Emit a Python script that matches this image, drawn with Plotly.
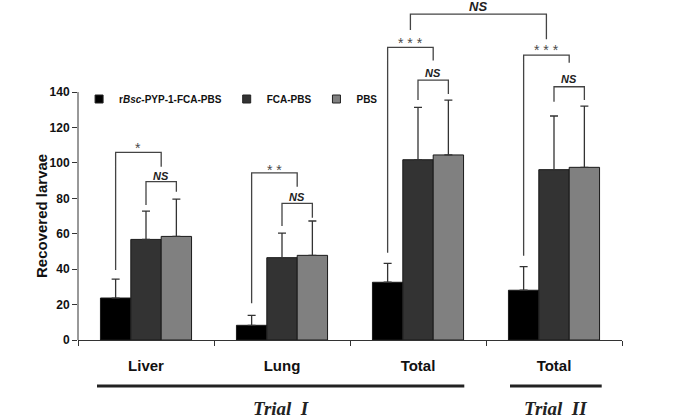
import plotly.graph_objects as go

# ---------------- data ----------------
categories = ["Liver", "Lung", "Total", "Total"]
series_names = ["r<i>Bsc</i>-PYP-1-FCA-PBS", "FCA-PBS", "PBS"]
rbsc_mean = [23.7, 8.3, 32.6, 28.1]
rbsc_err = [10.7, 5.6, 10.7, 13.3]
fca_mean = [56.8, 46.5, 101.8, 96.2]
fca_err = [16.0, 13.9, 29.6, 30.3]
pbs_mean = [58.5, 47.8, 104.5, 97.5]
pbs_err = [21.1, 19.4, 31.0, 34.6]
y_ticks = [0, 20, 40, 60, 80, 100, 120, 140]
trial_labels = ["Trial  I", "Trial  II"]

# significance brackets: (category of left end, kind of left end, category of right end, kind of right end,
#                          top, left-leg bottom, right-leg bottom, label, label centre)
brackets = [
    (0, "black", 0, "ns_mid", 106.0, 39.5, 97.9, "*", 108.4),
    (0, "dark", 0, "grey", 89.4, 76.2, 83.7, "NS", 92.6),
    (1, "black", 1, "ns_mid", 94.4, 20.7, 86.5, "* *", 96.1),
    (1, "dark", 1, "grey", 77.2, 64.4, 69.0, "NS", 80.9),
    (2, "black", 2, "ns_mid", 165.3, 49.3, 157.8, "* * *", 167.7),
    (2, "dark", 2, "grey", 146.8, 135.5, 138.9, "NS", 150.9),
    (3, "black", 3, "ns_mid", 160.9, 47.6, 156.5, "* * *", 163.9),
    (3, "dark", 3, "grey", 143.0, 134.5, 135.5, "NS", 147.3),
    (2, "star_mid", 3, "star_mid", 184.0, 175.0, 169.8, "NS", 188.6),
]

# ---------------- layout constants ----------------
BARGAP = 0.33
YMAX = 192
W = (1 - BARGAP) / 3
colors = ["#000000", "#333333", "#808080"]
xpos = list(range(len(categories)))


def xof(i, kind):
    off = {"black": -W, "dark": 0.0, "grey": W, "ns_mid": W / 2, "star_mid": -W / 4}[kind]
    return i + off


fig = go.Figure()
for name, mean, err, col in zip(series_names, [rbsc_mean, fca_mean, pbs_mean],
                                [rbsc_err, fca_err, pbs_err], colors):
    fig.add_trace(go.Bar(
        x=xpos, y=mean, name=name, marker=dict(color=col, line=dict(color="#1a1a1a", width=1)),
        error_y=dict(type="data", array=err, arrayminus=[0] * len(err), symmetric=False,
                     color="#333333", thickness=1.3, width=4),
        showlegend=False,
    ))
    # legend entry with small square
    fig.add_trace(go.Scatter(
        x=[None], y=[None], mode="markers", name="<b>" + name + "</b>",
        marker=dict(symbol="square", size=8, color=col, line=dict(color="#222222", width=1)),
    ))

# y-axis line from 0 to 140 only
fig.add_shape(type="line", xref="paper", yref="y", x0=0, x1=0, y0=0, y1=y_ticks[-1],
              line=dict(color="#333333", width=1))

line_style = dict(color="#444444", width=1.3)
for (ci, ki, cj, kj, top, lb, rb, lab, ly) in brackets:
    x1 = xof(ci, ki)
    x2 = xof(cj, kj)
    fig.add_shape(type="path", xref="x", yref="y",
                  path=f"M {x1},{lb} L {x1},{top} L {x2},{top} L {x2},{rb}",
                  line=line_style)
    if "NS" in lab:
        fnt = dict(family="Liberation Sans, Arial", size=13 if kj == "star_mid" else 11,
                   color="#222222", weight="bold", style="italic")
    else:
        fnt = dict(family="Liberation Sans, Arial", size=14, color="#4a4a4a")
    fig.add_annotation(x=(x1 + x2) / 2, y=ly, xref="x", yref="y", text=lab, showarrow=False,
                       font=fnt, yanchor="middle", xanchor="center")

# group underlines and trial labels
groups = [(-0.5 + 19 / 136, 2.5 - 21.7 / 136, trial_labels[0]), (2.5 + 24 / 136, 3.5 - 20.3 / 136, trial_labels[1])]
for g0, g1, lab in groups:
    fig.add_shape(type="line", xref="x", yref="paper", x0=g0, x1=g1, y0=-26 / YMAX, y1=-26 / YMAX,
                  line=dict(color="#222222", width=3))
    fig.add_annotation(x=(g0 + g1) / 2, y=-38.6 / YMAX, xref="x", yref="paper", text=lab,
                       showarrow=False, yanchor="middle", xanchor="center",
                       font=dict(family="Liberation Serif, Times New Roman", size=19, color="#222222",
                                 style="italic", weight="bold"))

# y title
fig.add_annotation(text="Recovered larvae", xref="paper", yref="y", x=-37 / 544, y=70,
                   textangle=-90, showarrow=False, xanchor="center", yanchor="middle",
                   font=dict(family="Liberation Sans, Arial", size=15, color="#111111", weight="bold"))

fig.update_layout(
    width=685, height=420,
    margin=dict(l=78, r=63, t=0, b=80),
    paper_bgcolor="white", plot_bgcolor="white",
    barmode="group", bargap=BARGAP, bargroupgap=0,
    showlegend=True,
    legend=dict(orientation="h", x=0.002, y=(340 - 99) / 340, xanchor="left", yanchor="middle",
                font=dict(family="Liberation Sans, Arial", size=10, color="#111111"),
                bgcolor="rgba(0,0,0,0)", itemwidth=30, tracegroupgap=0),
    xaxis=dict(range=[-0.5, 3.5], tickvals=xpos, ticktext=categories, ticks="",
               showline=True, linecolor="#333333", linewidth=1, showgrid=False, zeroline=False,
               tickfont=dict(family="Liberation Sans, Arial", size=15, color="#111111", weight="bold"),
               ticklabelstandoff=12,
               minor=dict(tickvals=[-0.5, 0.5, 1.5, 2.5, 3.5], ticks="outside", ticklen=5,
                          tickcolor="#333333", showgrid=False)),
    yaxis=dict(range=[0, YMAX], tickvals=y_ticks, ticks="outside", ticklen=5, tickcolor="#333333",
               showline=False, showgrid=False, zeroline=False,
               tickfont=dict(family="Liberation Sans, Arial", size=12, color="#111111", weight="bold")),
)

fig.write_html("out.html", config={"displayModeBar": False},
               post_script="document.body.style.margin='0';document.body.style.overflow='hidden';")
